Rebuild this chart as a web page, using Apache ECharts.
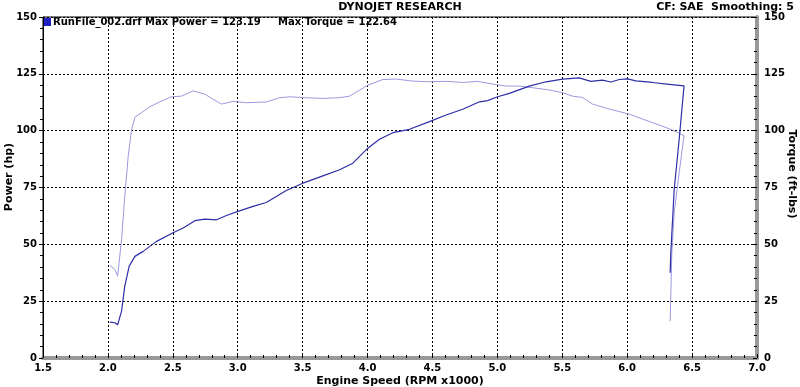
<!DOCTYPE html>
<html><head><meta charset="utf-8">
<script src="https://cdn.jsdelivr.net/npm/echarts@6/dist/echarts.min.js"></script>
<style>html,body{margin:0;padding:0;background:#fff}#c{width:800px;height:387px}</style>
</head><body><div id="c"></div>
<script>
var powerRpm = [2.015,2.054,2.075,2.105,2.13,2.164,2.208,2.272,2.375,2.498,2.58,2.67,2.747,2.837,2.913,3.002,3.118,3.22,3.374,3.502,3.656,3.785,3.887,4.002,4.092,4.195,4.323,4.477,4.605,4.733,4.862,4.925,5.002,5.092,5.246,5.375,5.502,5.63,5.72,5.81,5.875,5.94,6.002,6.067,6.195,6.323,6.438,6.4,6.362,6.336,6.331];
var powerHp = [15.8,15.5,14.6,20.6,31.6,40.4,44.7,46.9,51.3,55,57.2,60.4,61.1,60.8,62.7,64.5,66.7,68.4,73.7,76.9,80.1,82.8,85.7,92.3,96.2,99.1,100.6,104,106.9,109.4,112.7,113.2,114.9,116.4,119.6,121.5,122.7,123.2,121.7,122.2,121.4,122.5,122.8,121.9,121.2,120.4,119.7,95.9,74,46.2,37.5];
var torqueRpm = [2.015,2.054,2.075,2.105,2.13,2.156,2.182,2.208,2.259,2.323,2.4,2.49,2.567,2.656,2.746,2.81,2.875,2.964,3.067,3.22,3.323,3.4,3.528,3.656,3.785,3.862,4.002,4.118,4.22,4.348,4.477,4.605,4.733,4.848,4.964,5.067,5.17,5.272,5.4,5.502,5.579,5.656,5.733,5.862,5.925,6.015,6.118,6.246,6.348,6.438,6.4,6.362,6.344,6.331];
var torqueFt = [40.8,38.9,36,52.1,71.1,88.6,100.3,105.9,107.9,110.5,112.7,114.9,115.2,117.5,116.1,113.8,111.7,112.9,112.3,112.6,114.5,114.9,114.5,114.2,114.5,115.2,120,122.5,122.7,121.8,121.5,121.7,121.2,121.7,120.5,119.6,119.6,118.9,117.9,116.7,115.2,114.6,111.7,109.5,108.6,107.3,105.1,102.5,100.3,97.8,81.3,63.8,46.2,16.2];
var xTicks = [1.5,2.0,2.5,3.0,3.5,4.0,4.5,5.0,5.5,6.0,6.5,7.0];
var yTicks = [0,25,50,75,100,125,150];

function pairs(a,b){return a.map(function(v,i){return [v,b[i]];});}
var F = 'DejaVu Sans';
var chart = echarts.init(document.getElementById('c'));
var dashGrid = {show:true, lineStyle:{color:'#000', type:[2,2], width:1}};
var bold11 = 'bold 11px "DejaVu Sans"';
chart.setOption({
  animation:false,
  backgroundColor:'#fff',
  grid:{left:43,right:43,top:17,bottom:29,containLabel:false,outerBoundsMode:'none',show:true,borderColor:'#000',borderWidth:1},
  graphic:[
    {type:'text',left:'center',top:2,style:{text:'DYNOJET RESEARCH',font:bold11,fill:'#000'}},
    {type:'text',right:6,top:2,style:{text:'CF: SAE  Smoothing: 5',font:bold11,fill:'#000'}},
    {type:'rect',shape:{x:44,y:18,width:7,height:8},style:{fill:'#2020c0'}},
    {type:'text',left:53,top:17,style:{text:'RunFile_002.drf Max Power = 123.19     Max Torque = 122.64',font:'bold 10px "DejaVu Sans"',fill:'#000'}},
    {type:'text',x:9,y:177,rotation:Math.PI/2,style:{text:'Power (hp)',font:bold11,fill:'#000',align:'center',verticalAlign:'middle'}},
    {type:'text',x:792,y:174,rotation:-Math.PI/2,style:{text:'Torque (ft-lbs)',font:bold11,fill:'#000',align:'center',verticalAlign:'middle'}},
    {type:'text',x:400,y:381,style:{text:'Engine Speed (RPM x1000)',font:bold11,fill:'#000',align:'center',verticalAlign:'middle'}}
  ],
  xAxis:{type:'value',min:1.5,max:7.0,interval:0.5,
    axisLine:{show:true,lineStyle:{color:'#999',width:4}},
    axisTick:{show:true,inside:true,length:4,lineStyle:{color:'#000'}},
    minorTick:{show:true,splitNumber:5,length:3,lineStyle:{color:'#000'}},
    axisLabel:{margin:5,fontFamily:F,fontWeight:'bold',fontSize:10,color:'#000',formatter:function(v){return v.toFixed(1);}},
    splitLine:dashGrid},
  yAxis:[
    {type:'value',min:0,max:150,interval:25,position:'left',
      axisLine:{show:true,lineStyle:{color:'#000',width:1}},
      axisTick:{show:true,length:4,lineStyle:{color:'#000'}},
      minorTick:{show:true,splitNumber:5,length:3,lineStyle:{color:'#000'}},
      axisLabel:{margin:6,fontFamily:F,fontWeight:'bold',fontSize:10,color:'#000'},
      splitLine:dashGrid},
    {type:'value',min:0,max:150,interval:25,position:'right',
      axisLine:{show:true,lineStyle:{color:'#999',width:4}},
      axisTick:{show:true,inside:true,length:4,lineStyle:{color:'#000'}},
      minorTick:{show:true,splitNumber:5,length:3,lineStyle:{color:'#000'}},
      axisLabel:{margin:7,fontFamily:F,fontWeight:'bold',fontSize:10,color:'#000'},
      splitLine:{show:false}}
  ],
  series:[
    {name:'Torque',type:'line',yAxisIndex:1,data:pairs(torqueRpm,torqueFt),showSymbol:false,
      lineStyle:{color:'#9a9ae0',width:1},itemStyle:{color:'#9a9ae0'}},
    {name:'Power',type:'line',yAxisIndex:0,data:pairs(powerRpm,powerHp),showSymbol:false,
      lineStyle:{color:'#2e2ea6',width:1.2},itemStyle:{color:'#2e2ea6'}}
  ]
});
</script></body></html>
